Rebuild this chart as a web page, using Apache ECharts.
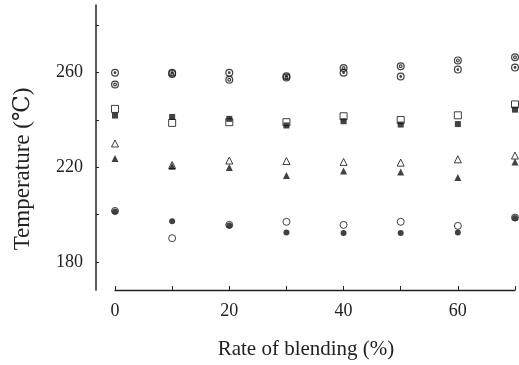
<!DOCTYPE html>
<html>
<head>
<meta charset="utf-8">
<script src="https://cdn.jsdelivr.net/npm/echarts@6/dist/echarts.min.js"></script>
<style>
  html, body { margin: 0; padding: 0; background: #fff; }
  #chart { width: 519px; height: 365px; }
</style>
</head>
<body>
<div id="chart"></div>
<script>
// Blending rate (%) on the horizontal axis
const blendRates = [0, 10, 20, 30, 40, 50, 60, 70];

// Temperatures (°C) for each marker type
const doubleCircleTemps = [255, 259.5, 257, 258, 262, 262.7, 265.2, 266.5];
const dotCircleTemps    = [260, 260, 260, 258.5, 260, 258.4, 261.3, 262.2];
const openSquareTemps   = [244.7, 238.8, 239.1, 239.1, 241.6, 240, 242, 246.6];
const filledSquareTemps = [241.9, 241.3, 240.5, 237.7, 239.5, 238.1, 238.3, 244.4];
const openTriangleTemps = [230.1, 221, 222.9, 222.7, 222.3, 222, 223.4, 225];
const filledTriangleTemps = [223.8, 220.5, 219.9, 216.6, 218.5, 218, 215.7, 222.3];
const openCircleTemps   = [201.6, 190.1, 195.7, 197, 195.7, 197, 195.3, 198.8];
const filledCircleTemps = [201.4, 197.2, 195.5, 192.5, 192.3, 192.3, 192.5, 198.6];

// Axis tick positions
const yTickValues = [180, 200, 220, 240, 260, 280];
const yLabelValues = [180, 220, 260];

const SERIF = "'Liberation Serif', 'DejaVu Serif', 'Noto Sans CJK JP', serif";

// Ring symbols: outer ring with a hole, then an inner ring or dot
const doubleCirclePath = 'path://M0,-10A10,10 0 1,1 0,10A10,10 0 1,1 0,-10Z' +
  'M0,-7A7,7 0 1,0 0,7A7,7 0 1,0 0,-7Z' +
  'M0,-5A5,5 0 1,1 0,5A5,5 0 1,1 0,-5Z' +
  'M0,-2A2,2 0 1,0 0,2A2,2 0 1,0 0,-2Z';
const dotCirclePath = 'path://M0,-10A10,10 0 1,1 0,10A10,10 0 1,1 0,-10Z' +
  'M0,-7A7,7 0 1,0 0,7A7,7 0 1,0 0,-7Z' +
  'M0,-3.5A3.5,3.5 0 1,1 0,3.5A3.5,3.5 0 1,1 0,-3.5Z';

function pairs(values) {
  return blendRates.map((x, i) => [x, values[i]]);
}

function scatter(values, symbol, size, filled) {
  return {
    type: 'scatter',
    data: pairs(values),
    symbol: symbol,
    symbolSize: size,
    clip: false,
    itemStyle: filled
      ? { color: '#111', borderWidth: 0 }
      : { color: '#fff', borderColor: '#111', borderWidth: 1 },
    emphasis: { disabled: true }
  };
}

const chart = echarts.init(document.getElementById('chart'), null, { renderer: 'canvas' });

chart.setOption({
  animation: false,
  backgroundColor: '#fff',
  grid: { left: 115, right: 4, top: 5, bottom: 74 },
  xAxis: {
    type: 'value',
    min: 0,
    max: 70,
    interval: 10,
    name: 'Rate of blending (%)',
    nameLocation: 'middle',
    nameGap: 49,
    nameTextStyle: { fontFamily: SERIF, fontSize: 21, color: '#222', padding: [0, 18, 0, 0] },
    axisLine: { show: true, onZero: false, lineStyle: { color: '#222', width: 1.3 } },
    axisTick: { show: true, inside: true, length: 4, lineStyle: { color: '#222', width: 1 } },
    axisLabel: {
      interval: 1,
      margin: 12,
      fontFamily: SERIF,
      fontSize: 18,
      color: '#222',
      formatter: v => (v % 20 === 0 && v < 70) ? String(v) : ''
    },
    splitLine: { show: false }
  },
  yAxis: {
    type: 'value',
    min: 168.2,
    max: 288.6,
    offset: 19,
    name: 'Temperature (℃)',
    nameLocation: 'middle',
    nameGap: 62,
    nameTextStyle: { fontFamily: SERIF, fontSize: 23, color: '#222', padding: [0, 43, 0, 0] },
    axisLine: { show: true, onZero: false, lineStyle: { color: '#222', width: 1.5 } },
    axisTick: { show: true, inside: true, length: 3, customValues: yTickValues, lineStyle: { color: '#222', width: 1 } },
    axisLabel: {
      customValues: yLabelValues,
      margin: 13,
      fontFamily: SERIF,
      fontSize: 18,
      color: '#222'
    },
    splitLine: { show: false }
  },
  series: [
    scatter(openCircleTemps, 'circle', 7, false),
    scatter(filledCircleTemps, 'circle', 6, true),
    scatter(openTriangleTemps, 'triangle', 7, false),
    scatter(filledTriangleTemps, 'triangle', 7, true),
    scatter(openSquareTemps, 'rect', 7, false),
    scatter(filledSquareTemps, 'rect', 6, true),
    { ...scatter(dotCircleTemps, dotCirclePath, 8, true), itemStyle: { color: '#111' } },
    { ...scatter(doubleCircleTemps, doubleCirclePath, 8, true), itemStyle: { color: '#111' } }
  ]
});
</script>
</body>
</html>
